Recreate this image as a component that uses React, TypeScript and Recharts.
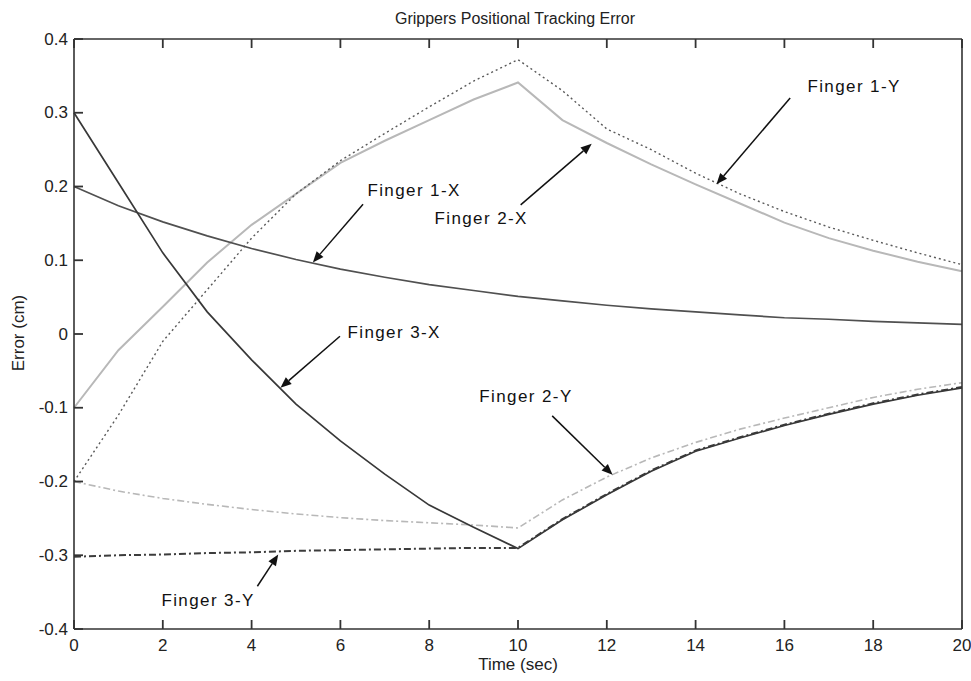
import React from "react";
import {
  LineChart,
  Line,
  XAxis,
  YAxis,
  ReferenceLine,
  ReferenceDot,
} from "recharts";

// sample times (sec)
const time = [0, 1, 2, 3, 4, 5, 6, 7, 8, 9, 10, 11, 12, 13, 14, 15, 16, 17, 18, 19, 20];

// tracking errors (cm)
const finger1X = [0.2, 0.174, 0.152, 0.133, 0.116, 0.101, 0.088, 0.077, 0.067, 0.059, 0.051, 0.045, 0.039, 0.034, 0.03, 0.026, 0.022, 0.02, 0.017, 0.015, 0.013];
const finger2X = [-0.1, -0.022, 0.037, 0.097, 0.148, 0.19, 0.232, 0.262, 0.29, 0.318, 0.341, 0.29, 0.259, 0.23, 0.203, 0.177, 0.151, 0.13, 0.113, 0.098, 0.085];
const finger3X = [0.3, 0.205, 0.11, 0.03, -0.035, -0.095, -0.145, -0.19, -0.232, -0.262, -0.291, -0.252, -0.218, -0.186, -0.159, -0.141, -0.124, -0.109, -0.095, -0.083, -0.073];
const finger1Y = [-0.2, -0.11, -0.01, 0.06, 0.13, 0.19, 0.235, 0.272, 0.308, 0.343, 0.372, 0.33, 0.278, 0.25, 0.218, 0.19, 0.166, 0.145, 0.127, 0.11, 0.094];
const finger2Y = [-0.2, -0.213, -0.223, -0.231, -0.238, -0.244, -0.249, -0.253, -0.256, -0.259, -0.263, -0.225, -0.194, -0.168, -0.147, -0.129, -0.114, -0.1, -0.086, -0.075, -0.066];
const finger3Y = [-0.302, -0.3, -0.299, -0.297, -0.296, -0.294, -0.293, -0.292, -0.291, -0.29, -0.29, -0.251, -0.217, -0.185, -0.158, -0.14, -0.123, -0.108, -0.094, -0.082, -0.072];

const xTicks = [0, 2, 4, 6, 8, 10, 12, 14, 16, 18, 20];
const yTicks = [-0.4, -0.3, -0.2, -0.1, 0, 0.1, 0.2, 0.3, 0.4];

// text callouts: label position and arrow (from -> tip), in data units
const callouts = [
  { label: "Finger 1-Y", tx: 17.57, ty: 0.335, x1: 16.13, y1: 0.32, x2: 14.47, y2: 0.203 },
  { label: "Finger 2-X", tx: 9.17, ty: 0.156, x1: 10.06, y1: 0.175, x2: 11.66, y2: 0.258 },
  { label: "Finger 1-X", tx: 7.66, ty: 0.194, x1: 6.51, y1: 0.176, x2: 5.38, y2: 0.097 },
  { label: "Finger 3-X", tx: 7.21, ty: 0.002, x1: 5.99, y1: -0.003, x2: 4.65, y2: -0.073 },
  { label: "Finger 3-Y", tx: 3.02, ty: -0.362, x1: 4.13, y1: -0.342, x2: 4.6, y2: -0.299 },
  { label: "Finger 2-Y", tx: 10.18, ty: -0.085, x1: 10.77, y1: -0.111, x2: 12.13, y2: -0.191 },
];

const data = time.map((t, i) => ({
  t,
  f1x: finger1X[i],
  f2x: finger2X[i],
  f3x: finger3X[i],
  f1y: finger1Y[i],
  f2y: finger2Y[i],
  f3y: finger3Y[i],
}));

const FONT = '"Liberation Sans", Arial, sans-serif';
const AXIS = "#333";
const TICK = 9;

const fmtY = (v: number) => (v === 0 ? "0" : v.toFixed(1));

const BottomLabel = ({ x, y, payload }: any) => (
  <text x={x} y={y + 16} textAnchor="middle" dominantBaseline="central" fontFamily={FONT} fontSize={17} fill="#222">
    {payload.value}
  </text>
);
const LeftLabel = ({ x, y, payload }: any) => (
  <text x={x - 6} y={y} textAnchor="end" dominantBaseline="central" fontFamily={FONT} fontSize={17} fill="#222">
    {fmtY(payload.value)}
  </text>
);
const NoLabel = () => <g />;

const arrowShape = (p: any) => {
  const { x1, y1, x2, y2 } = p;
  const ang = Math.atan2(y2 - y1, x2 - x1);
  const len = 11;
  const half = 4.5;
  const bx = x2 - len * Math.cos(ang);
  const by = y2 - len * Math.sin(ang);
  const px = -Math.sin(ang) * half;
  const py = Math.cos(ang) * half;
  return (
    <g>
      <line x1={x1} y1={y1} x2={bx} y2={by} stroke="#111" strokeWidth={1.5} />
      <polygon points={`${x2},${y2} ${bx + px},${by + py} ${bx - px},${by - py}`} fill="#111" />
    </g>
  );
};

// negative tick size turns the tick marks into the box, matlab style
const axisCommon = {
  tickSize: -TICK,
  tickMargin: TICK,
  tickLine: { stroke: AXIS, strokeWidth: 1.8 },
  axisLine: { stroke: AXIS, strokeWidth: 1.6 },
  interval: 0 as const,
};

const App = () => {
  return (
    <div style={{ position: "absolute", left: 0, top: 0, width: 971, height: 681, background: "#fff", fontFamily: FONT }}>
      <LineChart width={971} height={681} data={data} margin={{ top: 38, right: 8, bottom: 22, left: 14 }}>
        <XAxis dataKey="t" type="number" domain={[0, 20]} ticks={xTicks} height={30} tick={<BottomLabel />} {...axisCommon} />
        <XAxis xAxisId="top" dataKey="t" type="number" orientation="top" domain={[0, 20]} ticks={xTicks} height={1}
          tick={<NoLabel />} {...axisCommon} />
        <YAxis type="number" domain={[-0.4, 0.4]} ticks={yTicks} width={60} tick={<LeftLabel />} {...axisCommon} />
        <YAxis yAxisId="right" type="number" orientation="right" domain={[-0.4, 0.4]} ticks={yTicks} width={1}
          tick={<NoLabel />} {...axisCommon} />

        <Line dataKey="f2x" stroke="#b8b8b8" strokeWidth={2} dot={false} isAnimationActive={false} />
        <Line dataKey="f2y" stroke="#b8b8b8" strokeWidth={1.6} strokeDasharray="7 3 2 3" dot={false} isAnimationActive={false} />
        <Line dataKey="f1y" stroke="#5a5a5a" strokeWidth={1.4} strokeDasharray="2 3" dot={false} isAnimationActive={false} />
        <Line dataKey="f1x" stroke="#505050" strokeWidth={1.7} dot={false} isAnimationActive={false} />
        <Line dataKey="f3y" stroke="#3c3c3c" strokeWidth={2} strokeDasharray="7 3 2 3" dot={false} isAnimationActive={false} />
        <Line dataKey="f3x" stroke="#383838" strokeWidth={1.7} dot={false} isAnimationActive={false} />

        {callouts.map((c) => (
          <ReferenceLine key={`a-${c.label}`} segment={[{ x: c.x1, y: c.y1 }, { x: c.x2, y: c.y2 }]} shape={arrowShape} />
        ))}
        {callouts.map((c) => (
          <ReferenceDot key={`t-${c.label}`} x={c.tx} y={c.ty} r={0}
            shape={(p: any) => (
              <text x={p.cx} y={p.cy} textAnchor="middle" dominantBaseline="central" fontFamily={FONT}
                fontSize={17} letterSpacing={1.4} fill="#111">
                {c.label}
              </text>
            )}
          />
        ))}
      </LineChart>

      <div style={{ position: "absolute", left: 515, top: 9, transform: "translateX(-50%)", fontSize: 16, lineHeight: "20px", color: "#222", whiteSpace: "nowrap" }}>
        Grippers Positional Tracking Error
      </div>
      <div style={{ position: "absolute", left: 518, top: 655, transform: "translateX(-50%)", fontSize: 17, lineHeight: "20px", color: "#222", whiteSpace: "nowrap" }}>
        Time (sec)
      </div>
      <div style={{ position: "absolute", left: 19, top: 333, transform: "translate(-50%, -50%) rotate(-90deg)", fontSize: 17, lineHeight: "20px", color: "#222", whiteSpace: "nowrap" }}>
        Error (cm)
      </div>
    </div>
  );
};

export default App;
